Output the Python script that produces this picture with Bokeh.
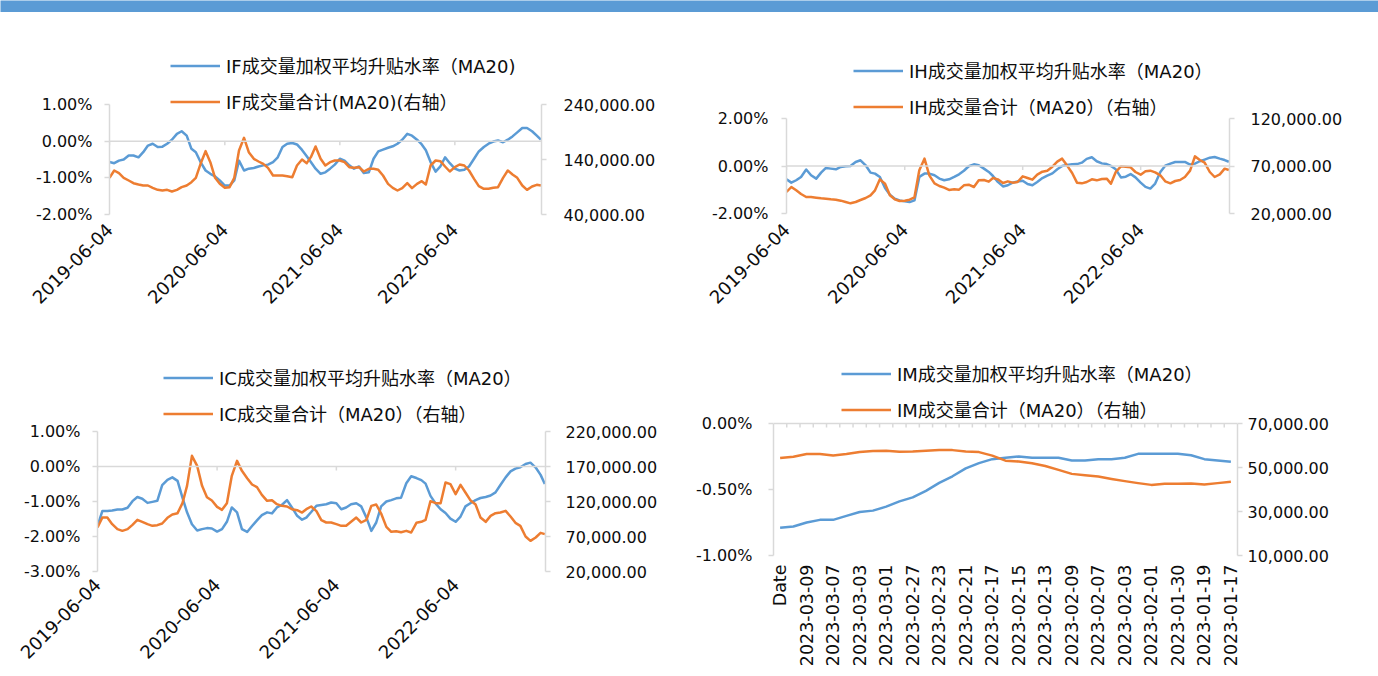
import math
import pandas as pd
from bokeh.plotting import figure
from bokeh.layouts import column, row
from bokeh.models import (ColumnDataSource, Range1d, LinearAxis, FixedTicker,
                          PrintfTickFormatter, NumeralTickFormatter, Span,
                          Legend, LegendItem)
from bokeh.core.properties import value
from bokeh.embed import file_html
from bokeh.resources import INLINE

BLUE = "#5B9BD5"
ORANGE = "#ED7D31"
GRAY = "#D9D9D9"
TXT = "#0D0D0D"
FONT = "DejaVu Sans, Noto Sans CJK SC"

# ---------------- data ----------------
# half-monthly sample dates (4th and 19th of each month), 2019-06-04 .. 2023-03-04
sample_dates = [f"{2019 + (5 + i // 2) // 12}-{(5 + i // 2) % 12 + 1:02d}-{4 if i % 2 == 0 else 19:02d}"
                for i in range(91)]
date_tick_labels = ["2019-06-04", "2020-06-04", "2021-06-04", "2022-06-04"]

if_rate = [-0.57, -0.60, -0.53, -0.50, -0.39, -0.39, -0.44, -0.30, -0.12, -0.07,
           -0.16, -0.15, -0.07, 0.04, 0.20, 0.27, 0.15, -0.21, -0.30, -0.57,
           -0.80, -0.89, -0.96, -1.07, -1.21, -1.21, -1.07, -0.53, -0.80, -0.75,
           -0.73, -0.69, -0.66, -0.64, -0.57, -0.44, -0.16, -0.07, -0.05, -0.09,
           -0.24, -0.41, -0.57, -0.75, -0.89, -0.85, -0.75, -0.64, -0.48, -0.53,
           -0.66, -0.75, -0.69, -0.87, -0.85, -0.48, -0.28, -0.23, -0.18, -0.14,
           -0.07, 0.04, 0.20, 0.15, 0.04, -0.09, -0.25, -0.57, -0.83, -0.69,
           -0.44, -0.60, -0.75, -0.80, -0.78, -0.69, -0.48, -0.28, -0.16, -0.07,
           -0.01, 0.02, -0.03, 0.04, 0.13, 0.24, 0.36, 0.36, 0.27, 0.15,
           0.04]
if_vol = [106700, 120000, 115150, 106700, 101800, 96970, 94550, 92730, 92730, 88480,
          84850, 83640, 84850, 81820, 84850, 89700, 92730, 98790, 106670, 132120,
          155150, 135150, 106670, 95760, 88480, 89700, 106670, 156360, 179400, 153330,
          141210, 136360, 132120, 124850, 110910, 110910, 110910, 109700, 107880, 129090,
          140000, 133330, 144240, 163640, 141210, 129090, 135150, 138180, 138180, 135150,
          126060, 124850, 126060, 118180, 123030, 123030, 121210, 110910, 95760, 88480,
          83640, 87880, 96970, 87880, 95760, 100610, 94550, 129090, 138180, 136970,
          127270, 118180, 126060, 130910, 129090, 120000, 104850, 91520, 86670, 86670,
          88480, 89700, 106670, 120000, 112730, 106670, 92730, 84850, 90910, 93940,
          92730]

ih_rate = [-0.56, -0.70, -0.60, -0.46, -0.15, -0.39, -0.53, -0.28, -0.08, -0.11,
           -0.14, -0.04, -0.01, 0.00, 0.17, 0.24, 0.03, -0.28, -0.32, -0.46,
           -0.93, -1.21, -1.38, -1.45, -1.49, -1.52, -1.45, -0.46, -0.32, -0.32,
           -0.39, -0.53, -0.60, -0.56, -0.46, -0.35, -0.20, -0.01, 0.07, 0.03,
           -0.11, -0.25, -0.42, -0.67, -0.86, -0.81, -0.70, -0.65, -0.62, -0.76,
           -0.81, -0.67, -0.51, -0.41, -0.31, -0.14, 0.00, 0.04, 0.07, 0.08,
           0.14, 0.30, 0.37, 0.20, 0.11, 0.08, 0.00, -0.14, -0.48, -0.45,
           -0.34, -0.48, -0.70, -0.88, -0.95, -0.74, -0.25, 0.01, 0.10, 0.17,
           0.17, 0.17, 0.06, 0.10, 0.20, 0.27, 0.35, 0.38, 0.31, 0.25,
           0.18]
ih_vol = [42630, 47890, 44380, 40520, 37370, 37370, 36660, 35960, 35610, 34910,
          34560, 33510, 32100, 30700, 32100, 34210, 36310, 39120, 44380, 55960,
          51400, 39120, 34910, 33160, 33510, 34560, 37020, 65440, 77720, 60170,
          51750, 48950, 47190, 44740, 45440, 45090, 49650, 50350, 47890, 54910,
          55260, 53510, 57370, 55960, 52100, 53860, 52460, 53160, 59120, 57370,
          55610, 60880, 64030, 65090, 69300, 74560, 77720, 70700, 62630, 52460,
          51750, 53160, 55960, 54910, 56320, 56670, 51400, 63680, 69650, 69300,
          68600, 63680, 60880, 64390, 65090, 63330, 60170, 53860, 51750, 54210,
          55260, 58420, 65090, 80180, 76320, 73510, 63680, 58420, 61230, 67190,
          65790]

ic_rate = [-1.70, -1.27, -1.27, -1.26, -1.23, -1.23, -1.18, -0.99, -0.87, -0.92,
           -1.04, -1.01, -0.98, -0.53, -0.38, -0.31, -0.41, -0.89, -1.31, -1.65,
           -1.83, -1.79, -1.76, -1.77, -1.86, -1.79, -1.58, -1.17, -1.31, -1.79,
           -1.87, -1.70, -1.54, -1.39, -1.31, -1.34, -1.17, -1.10, -0.96, -1.17,
           -1.41, -1.52, -1.46, -1.30, -1.12, -1.10, -1.08, -1.03, -1.05, -1.22,
           -1.17, -1.08, -1.05, -1.14, -1.46, -1.84, -1.60, -1.14, -1.00, -0.96,
           -0.91, -0.89, -0.48, -0.28, -0.33, -0.39, -0.49, -0.84, -1.06, -1.22,
           -1.33, -1.49, -1.58, -1.43, -1.14, -1.05, -0.96, -0.90, -0.87, -0.83,
           -0.74, -0.53, -0.31, -0.14, -0.06, -0.02, 0.07, 0.11, -0.03, -0.24,
           -0.50]
ic_vol = [82860, 97140, 97140, 87620, 80470, 78090, 80470, 86670, 93810, 90950,
          87620, 85240, 86190, 88570, 96670, 101430, 103330, 117620, 142380, 185240,
          170950, 142380, 126190, 121430, 112380, 108090, 117620, 156670, 178100, 163810,
          153330, 144290, 140480, 129520, 120950, 121900, 116190, 113810, 112860, 109050,
          107620, 104280, 109050, 112860, 106190, 93330, 90000, 90000, 87620, 85240,
          85240, 90950, 97140, 90000, 93810, 113810, 115710, 102860, 83810, 76670,
          77620, 76190, 78090, 75710, 89520, 90950, 93810, 120480, 117620, 117620,
          147140, 144760, 130480, 143810, 132860, 121900, 115710, 97140, 90950, 99520,
          103330, 104280, 106670, 98570, 89520, 85240, 70000, 63810, 68570, 75240,
          73330]

im_dates = ["Date", "2023-03-10", "2023-03-09", "2023-03-08", "2023-03-07", "2023-03-06",
            "2023-03-03", "2023-03-02", "2023-03-01", "2023-02-28", "2023-02-27",
            "2023-02-24", "2023-02-23", "2023-02-22", "2023-02-21", "2023-02-20",
            "2023-02-17", "2023-02-16", "2023-02-15", "2023-02-14", "2023-02-13",
            "2023-02-10", "2023-02-09", "2023-02-08", "2023-02-07", "2023-02-06",
            "2023-02-03", "2023-02-02", "2023-02-01", "2023-01-31", "2023-01-30",
            "2023-01-20", "2023-01-19", "2023-01-18", "2023-01-17"]
im_rate = [-0.79, -0.78, -0.75, -0.73, -0.73, -0.70, -0.67, -0.66, -0.63, -0.59,
           -0.56, -0.51, -0.45, -0.40, -0.34, -0.30, -0.27, -0.26, -0.25, -0.26,
           -0.26, -0.26, -0.28, -0.28, -0.27, -0.27, -0.26, -0.23, -0.23, -0.23,
           -0.23, -0.24, -0.27, -0.28, -0.29]
im_vol = [54300, 54900, 56100, 56100, 55500, 56100, 57000, 57500, 57600, 57200,
          57300, 57600, 57900, 57900, 57300, 57000, 55400, 53100, 52700, 51900,
          50700, 48900, 47100, 46500, 45900, 44800, 43800, 42900, 42100, 42600,
          42600, 42700, 42300, 42900, 43500]

# ---------------- helpers ----------------
def style_axis(ax, standoff):
    ax.axis_line_color = GRAY
    ax.axis_line_width = 1.5
    ax.major_tick_line_color = GRAY
    ax.major_tick_line_width = 1.5
    ax.major_tick_out = 5
    ax.major_tick_in = 0
    ax.minor_tick_line_color = None
    ax.major_label_text_font = FONT
    ax.major_label_text_font_size = "16px"
    ax.major_label_text_color = TXT
    ax.major_label_standoff = standoff


def padded(lo, hi, axis_px, pad_t, pad_b):
    u = (hi - lo) / axis_px
    return lo - pad_b * u, hi + pad_t * u


def make_panel(w, h, bottom, x_range, x_type, x, rate, vol, y_left, y_right,
               ticks_left, ticks_right, labels, legend_loc, lstand, rstand,
               left_b, right_b, axis_px, pad_t, pad_b):
    p = figure(width=w, height=h, min_border_left=left_b, min_border_right=right_b,
               min_border_top=0, min_border_bottom=bottom, x_range=x_range,
               y_range=Range1d(*padded(*y_left, axis_px, pad_t, pad_b)),
               x_axis_type=x_type, tools="", toolbar_location=None,
               output_backend="svg")
    p.outline_line_color = None
    p.xgrid.visible = False
    p.ygrid.visible = False
    p.extra_y_ranges = {"vol": Range1d(*padded(*y_right, axis_px, pad_t, pad_b))}

    la = p.yaxis[0]
    style_axis(la, lstand)
    la.bounds = y_left
    la.ticker = FixedTicker(ticks=ticks_left, minor_ticks=[])
    la.formatter = PrintfTickFormatter(format="%.2f%%")

    ra = LinearAxis(y_range_name="vol", bounds=y_right,
                    ticker=FixedTicker(ticks=ticks_right, minor_ticks=[]),
                    formatter=NumeralTickFormatter(format="0,0.00"))
    style_axis(ra, rstand)
    p.add_layout(ra, "right")

    ba = p.xaxis[0]
    ba.axis_line_color = None
    ba.major_tick_line_color = None
    ba.minor_tick_line_color = None
    ba.major_tick_out = 0
    ba.minor_tick_out = 0
    ba.major_label_text_font = FONT
    ba.major_label_text_font_size = "18px"
    ba.major_label_text_color = TXT

    src = ColumnDataSource(dict(x=x, rate=rate, vol=vol))
    rb = p.line("x", "rate", source=src, line_color=BLUE, line_width=2.5, line_join="round")
    ro = p.line("x", "vol", source=src, line_color=ORANGE, line_width=2.5,
                line_join="round", y_range_name="vol")

    leg = Legend(items=[LegendItem(label=value(labels[0]), renderers=[rb]),
                        LegendItem(label=value(labels[1]), renderers=[ro])],
                 location=legend_loc, orientation="vertical", glyph_width=50,
                 glyph_height=21, label_height=21, spacing=10, padding=0, margin=0,
                 border_line_color=None, background_fill_alpha=0,
                 label_text_font=FONT, label_text_font_size="18px",
                 label_text_color=TXT, label_standoff=6)
    p.add_layout(leg, "center")
    return p


def zero_line(p, xs, y_left, axis_px):
    p.add_layout(Span(location=0, dimension="width", line_color=GRAY, line_width=1.5))
    tick = 4 * (y_left[1] - y_left[0]) / axis_px
    p.segment(x0=xs, y0=[0] * len(xs), x1=xs, y1=[-tick] * len(xs),
              line_color=GRAY, line_width=1.5)


x_dt = pd.to_datetime(sample_dates)
x_start = pd.Timestamp("2019-06-04")
x_end = pd.Timestamp("2023-03-06")
tick_dt = [pd.Timestamp(s) for s in date_tick_labels]
tick_ms = [int(t.value // 10**6) for t in tick_dt]


def date_axis(p, standoff):
    ba = p.xaxis[0]
    ba.ticker = FixedTicker(ticks=tick_ms, minor_ticks=[])
    ba.major_label_overrides = {ms: lab for ms, lab in zip(tick_ms, date_tick_labels)}
    ba.major_label_orientation = math.pi / 4
    ba.major_label_standoff = standoff


# ---------------- panels ----------------
specs = [
    dict(w=690, h=338, bottom=136, left_b=109, right_b=149, axis_px=110, pad_t=92, pad_b=0,
         rate=if_rate, vol=if_vol,
         y_left=(-2, 1), y_right=(40000, 240000), ticks_left=[-2, -1, 0, 1],
         ticks_right=[40000, 140000, 240000],
         labels=["IF成交量加权平均升贴水率（MA20)", "IF成交量合计(MA20)(右轴）"],
         legend_loc=(61, 100), lstand=12, rstand=17, bstand=12),
    dict(w=688, h=338, bottom=136, left_b=96, right_b=149, axis_px=95, pad_t=106, pad_b=1,
         rate=ih_rate, vol=ih_vol,
         y_left=(-2, 2), y_right=(20000, 120000), ticks_left=[-2, 0, 2],
         ticks_right=[20000, 70000, 120000],
         labels=["IH成交量加权平均升贴水率（MA20）", "IH成交量合计（MA20）（右轴）"],
         legend_loc=(67, 95), lstand=13, rstand=16, bstand=12),
    dict(w=690, h=326, bottom=105, left_b=97, right_b=145, axis_px=140, pad_t=81, pad_b=0,
         rate=ic_rate, vol=ic_vol,
         y_left=(-3, 1), y_right=(20000, 220000), ticks_left=[-3, -2, -1, 0, 1],
         ticks_right=[20000, 70000, 120000, 170000, 220000],
         labels=["IC成交量加权平均升贴水率（MA20）", "IC成交量合计（MA20）（右轴）"],
         legend_loc=(66, 145), lstand=12, rstand=15, bstand=10),
]

panels = []
for s in specs:
    p = make_panel(s["w"], s["h"], s["bottom"], Range1d(x_start, x_end), "datetime",
                   x_dt, s["rate"], s["vol"], s["y_left"], s["y_right"],
                   s["ticks_left"], s["ticks_right"], s["labels"], s["legend_loc"],
                   s["lstand"], s["rstand"], s["left_b"], s["right_b"],
                   s["axis_px"], s["pad_t"], s["pad_b"])
    date_axis(p, s["bstand"])
    zero_line(p, tick_dt, s["y_left"], s["axis_px"])
    panels.append(p)

# IM panel (category axis, dates in descending order)
n_im = len(im_dates)
x_im = list(range(n_im))
p_im = make_panel(688, 326, 121, Range1d(-0.5, n_im - 0.5), "linear",
                  x_im, im_rate, im_vol, (-1, 0), (10000, 70000), [-1, -0.5, 0],
                  [10000, 30000, 50000, 70000],
                  ["IM成交量加权平均升贴水率（MA20）", "IM成交量合计（MA20）（右轴）"],
                  (68, 133), 16, 5, 83, 141, 132, 73, 0)
ba = p_im.xaxis[0]
ba.ticker = FixedTicker(ticks=list(range(0, n_im, 2)), minor_ticks=[])
ba.major_label_overrides = {i: im_dates[i] for i in range(0, n_im, 2)}
ba.major_label_orientation = math.pi / 2
ba.major_label_standoff = 9
ba.major_label_text_font_size = "17.5px"
bounds = [i + 0.5 for i in range(n_im - 1)]
p_im.add_layout(Span(location=0, dimension="width", line_color=GRAY, line_width=1.5))
tk = 4 * 1.0 / 132
p_im.segment(x0=bounds, y0=[0] * len(bounds), x1=bounds, y1=[-tk] * len(bounds),
             line_color=GRAY, line_width=1.5)

band = figure(width=1378, height=12, min_border=0, x_axis_location=None,
              y_axis_location=None, toolbar_location=None, tools="",
              output_backend="svg", background_fill_color=BLUE,
              border_fill_color=BLUE, outline_line_color=None)
band.xgrid.visible = False
band.ygrid.visible = False

layout = column(band,
                row(column(panels[0]), column(panels[1])),
                row(column(panels[2]), column(p_im)))
open("out.html", "w").write(file_html(layout, INLINE))
